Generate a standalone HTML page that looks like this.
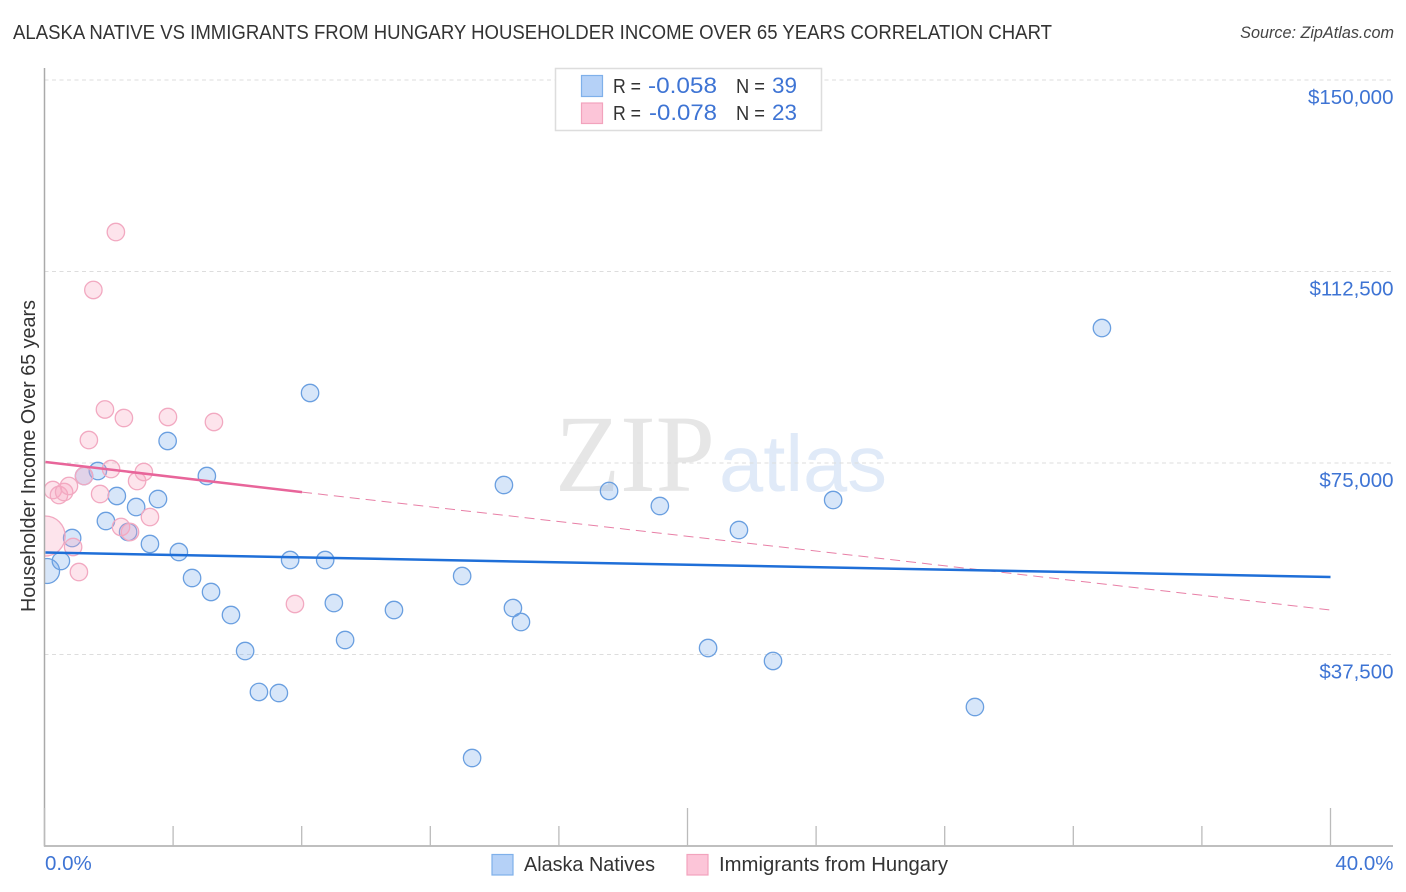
<!DOCTYPE html>
<html>
<head>
<meta charset="utf-8">
<title>Alaska Native vs Immigrants from Hungary Householder Income Over 65 Years Correlation Chart</title>
<style>
html,body{margin:0;padding:0;background:#fff;}
svg{display:block;font-family:"Liberation Sans",sans-serif;}
</style>
</head>
<body>
<svg id="chart" xmlns="http://www.w3.org/2000/svg" width="1406" height="892" viewBox="0 0 1406 892">
  <rect width="1406" height="892" fill="#fff"/>
  <text x="13" y="39" font-size="20" fill="#333" textLength="1039" lengthAdjust="spacingAndGlyphs">ALASKA NATIVE VS IMMIGRANTS FROM HUNGARY HOUSEHOLDER INCOME OVER 65 YEARS CORRELATION CHART</text>
  <text x="1394" y="38" font-size="16.2" font-style="italic" fill="#444" text-anchor="end">Source: ZipAtlas.com</text>

  <g id="watermark">
    <text x="555" y="491" font-family="'Liberation Serif',serif" font-size="110" fill="#e6e6e6" textLength="160" lengthAdjust="spacingAndGlyphs">ZIP</text>
    <text x="719" y="491" font-size="80" fill="#e0eaf8" textLength="168" lengthAdjust="spacingAndGlyphs">atlas</text>
  </g>

  <g id="grid"></g>
  <g id="points"></g>
  <g id="trends"></g>
  <rect x="0" y="480" width="44" height="130" fill="#fff"/>
  <g id="axes"></g>

  <text transform="translate(35,456) rotate(-90)" font-size="20" fill="#333" text-anchor="middle" textLength="312" lengthAdjust="spacingAndGlyphs">Householder Income Over 65 years</text>

  <g>
    <rect x="555.5" y="68.5" width="266" height="62" fill="#fff" stroke="#ddd" stroke-width="1.5"/>
    <rect x="581.5" y="75.5" width="21" height="21" fill="#b5d1f7" stroke="#7fb0ea" stroke-width="1.2"/>
    <rect x="581.5" y="103" width="21" height="20.5" fill="#fcc5d8" stroke="#f2a3bd" stroke-width="1.2"/>
    <text x="613" y="93" font-size="20" fill="#333" textLength="28" lengthAdjust="spacingAndGlyphs">R =</text>
    <text x="648" y="93" font-size="22" fill="#3e74d4" textLength="69" lengthAdjust="spacingAndGlyphs">-0.058</text>
    <text x="736" y="93" font-size="20" fill="#333" textLength="29" lengthAdjust="spacingAndGlyphs">N =</text>
    <text x="772" y="93" font-size="22" fill="#3e74d4" textLength="25" lengthAdjust="spacingAndGlyphs">39</text>
    <text x="613" y="120" font-size="20" fill="#333" textLength="28" lengthAdjust="spacingAndGlyphs">R =</text>
    <text x="649" y="120" font-size="22" fill="#3e74d4" textLength="68" lengthAdjust="spacingAndGlyphs">-0.078</text>
    <text x="736" y="120" font-size="20" fill="#333" textLength="29" lengthAdjust="spacingAndGlyphs">N =</text>
    <text x="772" y="120" font-size="22" fill="#3e74d4" textLength="25" lengthAdjust="spacingAndGlyphs">23</text>
  </g>

  <g>
    <rect x="492" y="854.5" width="21" height="20.5" fill="#b5d1f7" stroke="#7fb0ea" stroke-width="1.2"/>
    <text x="524" y="871" font-size="20" fill="#333" textLength="131" lengthAdjust="spacingAndGlyphs">Alaska Natives</text>
    <rect x="687" y="854.5" width="21" height="20.5" fill="#fcc5d8" stroke="#f2a3bd" stroke-width="1.2"/>
    <text x="719" y="871" font-size="20" fill="#333" textLength="229" lengthAdjust="spacingAndGlyphs">Immigrants from Hungary</text>
  </g>
</svg>
<script>
var yTickValues = [150000, 112500, 75000, 37500];
var yTickLabels = ["$150,000", "$112,500", "$75,000", "$37,500"];
var xTickValues = [0, 4, 8, 12, 16, 20, 24, 28, 32, 36, 40];
var xMajorTicks = [0, 20, 40];
var xEndLabels = ["0.0%", "40.0%"];
var xEndValues = [0, 40];

var alaskaPct = [0.08,0.51,0.86,1.23,1.66,1.91,2.25,2.85,2.60,3.53,3.28,4.18,4.59,5.05,5.18,5.80,6.24,6.67,7.29,7.64,8.26,8.73,9.00,9.35,10.87,12.99,13.30,14.29,14.57,14.82,17.56,19.14,20.64,21.60,22.66,24.53,28.94,32.89,3.83];
var alaskaIncome = [53850,55810,60310,72450,73430,63640,68540,66380,61490,67950,59140,57570,52480,72450,49740,45230,38180,30160,29960,56000,88710,56000,47580,40340,46210,52870,17230,70690,46600,43860,69520,66580,38770,61880,36230,67750,27220,101430,79310];
var alaskaWeight = [2.06,1,1,1,1,1,1,1,1,1,1,1,1,1,1,1,1,1,1,1,1,1,1,1,1,1,1,1,1,1,1,1,1,1,1,1,1,1,1];

var hungaryPct = [0.02,0.26,0.45,0.61,0.76,0.89,1.07,1.23,1.38,1.52,1.73,1.88,2.07,2.22,2.47,2.38,2.66,2.88,3.09,3.28,3.84,5.27,7.79];
var hungaryIncome = [60700,69710,68730,69320,70500,58550,53650,72450,79500,108880,68930,85480,73820,120230,83810,62470,61490,71470,73240,64420,84010,83030,47390];
var hungaryWeight = [5.3,1,1,1,1,1,1,1,1,1,1,1,1,1,1,1,1,1,1,1,1,1,1];

var alaskaTrendX = [0.03, 40];
var alaskaTrendY = [57470, 52680];
var hungaryTrendX = [0.03, 8.01];
var hungaryTrendY = [75200, 69300];
var hungaryDashX = [8.01, 40];
var hungaryDashY = [69300, 46210];

var NS = "http://www.w3.org/2000/svg";
function xScale(p) { return 44.5 + p * (1330.5 - 44.5) / 40; }
function yScale(v) { return 846 - v * 191.5 / 37500; }
function make(tag, parent, attrs) {
  var el = document.createElementNS(NS, tag);
  for (var k in attrs) el.setAttribute(k, attrs[k]);
  parent.appendChild(el);
  return el;
}

var grid = document.getElementById("grid");
var axes = document.getElementById("axes");

yTickValues.forEach(function (v, i) {
  var y = yScale(v);
  var line = make("line", grid, {x1: 44.5, x2: 1393, y1: y, y2: y, stroke: "#ddd", "stroke-width": 1, "stroke-dasharray": "4 3.5"});
  
  
  var t = make("text", axes, {x: 1393.5, y: y + 24, "font-size": 20.5, fill: "#3e74d4", "text-anchor": "end"});
  t.textContent = yTickLabels[i];
  
  
});

var yAxis = make("line", axes, {x1: 44.5, x2: 44.5, y1: 68, y2: 846.5, stroke: "#aaa", "stroke-width": 1.5});


var xAxis = make("line", axes, {x1: 44, x2: 1393, y1: 846, y2: 846, stroke: "#aaa", "stroke-width": 1.5});



xTickValues.forEach(function (p) {
  var x = xScale(p);
  var major = xMajorTicks.indexOf(p) >= 0;
  var tick = make("line", axes, {x1: x, x2: x, y1: major ? 808 : 826, y2: 846, stroke: "#bbb", "stroke-width": 1.3});
  
  
});

xEndValues.forEach(function (p, i) {
  var anchor = i === 0 ? "start" : "end";
  var x = i === 0 ? xScale(p) + 0.5 : 1393.5;
  var t = make("text", axes, {x: x, y: 870, "font-size": 20.5, fill: "#3e74d4", "text-anchor": anchor});
  t.textContent = xEndLabels[i];
  
  
});

var points = document.getElementById("points");
function radius(w) { return 8.7 * Math.sqrt(w); }

alaskaPct.forEach(function (p, i) {
  var c = make("circle", points, {cx: xScale(p), cy: yScale(alaskaIncome[i]), r: radius(alaskaWeight[i]), fill: "rgba(110,165,235,0.28)", stroke: "#6a9fe0", "stroke-width": 1.3});
  
  
});
hungaryPct.forEach(function (p, i) {
  var c = make("circle", points, {cx: xScale(p), cy: yScale(hungaryIncome[i]), r: radius(hungaryWeight[i]), fill: "rgba(248,165,192,0.3)", stroke: "#f2a9c1", "stroke-width": 1.3});
  
  
});

var trends = document.getElementById("trends");
var dash = make("line", trends, {x1: xScale(hungaryDashX[0]), y1: yScale(hungaryDashY[0]), x2: xScale(hungaryDashX[1]), y2: yScale(hungaryDashY[1]), stroke: "#e87fa6", "stroke-width": 1, "stroke-dasharray": "10 6"});


var hungaryLine = make("line", trends, {x1: xScale(hungaryTrendX[0]), y1: yScale(hungaryTrendY[0]), x2: xScale(hungaryTrendX[1]), y2: yScale(hungaryTrendY[1]), stroke: "#e8659a", "stroke-width": 2.5});


var alaskaLine = make("line", trends, {x1: xScale(alaskaTrendX[0]), y1: yScale(alaskaTrendY[0]), x2: xScale(alaskaTrendX[1]), y2: yScale(alaskaTrendY[1]), stroke: "#1f6fd8", "stroke-width": 2.5});


</script>
</body>
</html>
